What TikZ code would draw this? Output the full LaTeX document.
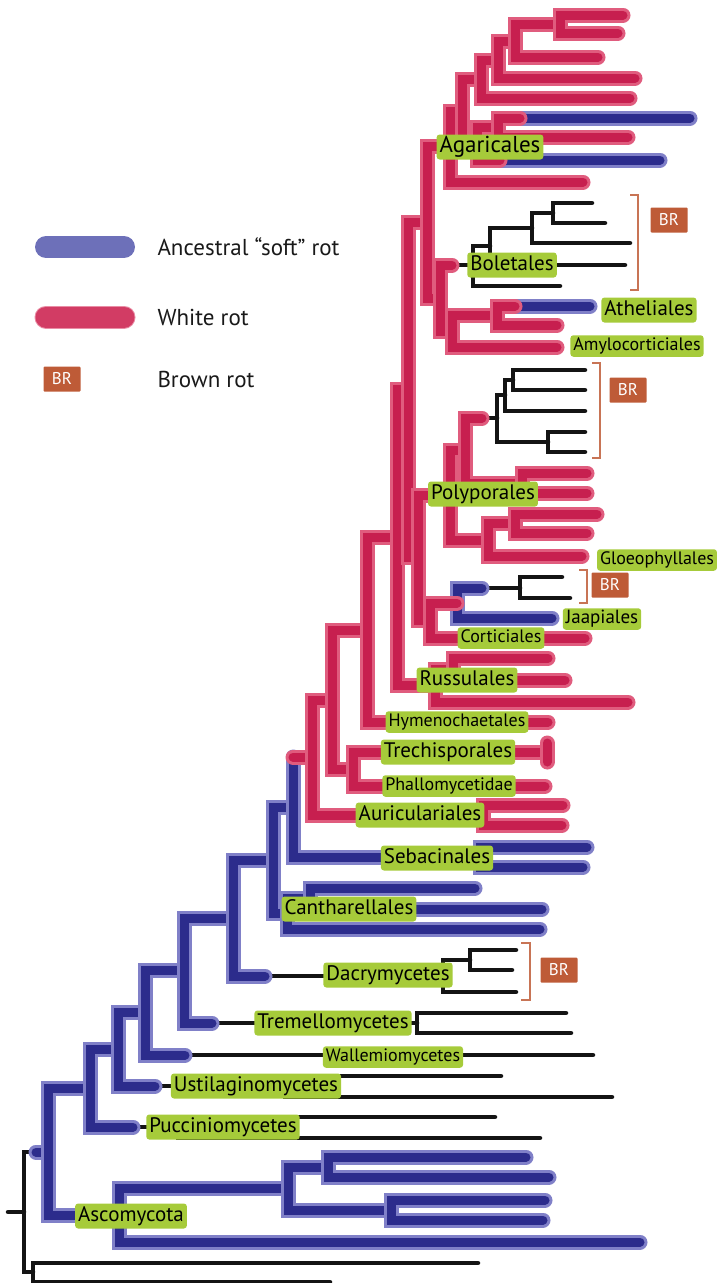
\documentclass[tikz,border=0pt]{standalone}
\usepackage{fontspec}
\setmainfont{PT Sans}
\definecolor{rin}{HTML}{C71F4F}
\definecolor{rout}{HTML}{E05C7E}
\definecolor{bin}{HTML}{2C2C8C}
\definecolor{bout}{HTML}{8080C8}
\definecolor{lime}{HTML}{A6CB3A}
\definecolor{brc}{HTML}{BE5B37}
\definecolor{legblue}{HTML}{6D70B9}
\definecolor{legred}{HTML}{D23C64}
\newcommand\biglab{\fontsize{21}{22}\selectfont}
\newcommand\hugelab{\fontsize{23}{24}\selectfont}
\newcommand\smalllab{\fontsize{18}{19}\selectfont}
\newcommand\brfont{\fontsize{17}{18}\selectfont}
\newcommand\legfont{\fontsize{23}{24}\selectfont}
\tikzset{
 redb/.style={draw=rin, line width=9pt, line cap=round, preaction={draw=rout, line width=15pt, line cap=round}},
 blueb/.style={draw=bin, line width=9pt, line cap=round, preaction={draw=bout, line width=15pt, line cap=round}},
 blackb/.style={draw=black!92, line width=4.5pt, line cap=round},
 lab/.style={fill=lime, rounded corners=3pt, inner xsep=3pt, inner ysep=3pt, text height=14.5pt, text depth=4.5pt, font=\biglab, text=black},
 slab/.style={lab, font=\smalllab, inner ysep=2.5pt, text height=12.5pt, text depth=4pt},
 brbox/.style={fill=brc, text=white, font=\brfont, inner sep=0pt, minimum width=37pt, minimum height=25pt, rounded corners=1pt},
 brack/.style={draw=brc!85!white, line width=2.5pt},
 legtext/.style={anchor=west, font=\legfont, text=black!90},
}
\begin{document}
\begin{tikzpicture}[x=1pt,y=-1pt]
\useasboundingbox (0,0) rectangle (720,1283);
% ---------- coordinates ----------
% Agaricales
\coordinate (t1) at (623,15);
\coordinate (t2) at (618,33);
\coordinate (a1) at (560,24);
\coordinate (t3) at (598,57);
\coordinate (a2) at (515,41);
\coordinate (t4) at (635,78);
\coordinate (a3) at (498,60);
\coordinate (t5) at (630,98);
\coordinate (a4) at (481,79);
\coordinate (t6) at (690,118);
\coordinate (t6r) at (520,118);
\coordinate (t7) at (628,137);
\coordinate (b1) at (498,127);
\coordinate (t8) at (660,160);
\coordinate (t8r) at (500,160);
\coordinate (b2) at (477,143);
\coordinate (a5) at (462,111);
\coordinate (t9) at (583,182);
\coordinate (a6) at (450,146);
% Boletales
\coordinate (u1) at (592,203);
\coordinate (u2) at (605,223);
\coordinate (c1) at (553,213);
\coordinate (u3) at (630,243);
\coordinate (c2) at (532,228);
\coordinate (u4) at (625,265);
\coordinate (c3) at (490,246);
\coordinate (u5) at (560,286);
\coordinate (c4) at (473,265);
\coordinate (bol) at (452,265);
% Atheliales / Amylocorticiales
\coordinate (v1) at (590,306);
\coordinate (v1r) at (515,306);
\coordinate (v2) at (557,325);
\coordinate (e1) at (497,315);
\coordinate (v3) at (557,347);
\coordinate (e2) at (452,331);
\coordinate (d1) at (440,298);
\coordinate (f1) at (427,222);
% Polyporales
\coordinate (w1) at (585,370);
\coordinate (w2) at (585,390);
\coordinate (g1) at (513,380);
\coordinate (w3) at (585,411);
\coordinate (g2) at (505,395);
\coordinate (w4) at (585,432);
\coordinate (w5) at (585,452);
\coordinate (g3) at (548,442);
\coordinate (g4) at (497,418);
\coordinate (pb) at (482,418);
\coordinate (w6) at (587,473);
\coordinate (w7) at (587,493);
\coordinate (h2) at (522,483);
\coordinate (h1) at (465,450);
\coordinate (w8) at (597,514);
\coordinate (w9) at (587,533);
\coordinate (h3) at (515,523);
\coordinate (w10) at (582,556);
\coordinate (h4) at (488,540);
\coordinate (h5) at (450,495);
% Jaapiales / Corticiales
\coordinate (x1) at (562,577);
\coordinate (x2) at (570,598);
\coordinate (j1) at (520,588);
\coordinate (jb) at (482,588);
\coordinate (x3) at (552,618);
\coordinate (j2) at (457,603);
\coordinate (x4) at (585,638);
\coordinate (j3) at (430,620);
\coordinate (k1) at (418,557);
\coordinate (m1) at (408,389);
% Russulales
\coordinate (y1) at (548,658);
\coordinate (y2) at (565,680);
\coordinate (r1) at (453,669);
\coordinate (y3) at (628,702);
\coordinate (r2) at (435,685);
\coordinate (m2) at (397,537);
% Hymenochaetales
\coordinate (hy) at (548,722);
\coordinate (m3) at (367,630);
% Trechisporales / Phallomycetidae
\coordinate (tr) at (547,752);
\coordinate (tra) at (547,743);
\coordinate (trb) at (547,762);
\coordinate (ph) at (545,786);
\coordinate (p1) at (353,769);
\coordinate (m4) at (332,700);
% Auriculariales
\coordinate (z1) at (563,805);
\coordinate (z2) at (562,825);
\coordinate (au) at (483,815);
\coordinate (m5) at (312,757);
% Sebacinales
\coordinate (s1) at (587,847);
\coordinate (s2) at (583,867);
\coordinate (se) at (480,857);
\coordinate (m6) at (293,807);
% Cantharellales
\coordinate (q1) at (475,888);
\coordinate (q2) at (542,909);
\coordinate (ca1) at (310,898);
\coordinate (q3) at (540,929);
\coordinate (ca2) at (287,913);
\coordinate (m7) at (273,860);
% Dacrymycetes
\coordinate (dq1) at (516,950);
\coordinate (dq2) at (512,970);
\coordinate (da1) at (470,960);
\coordinate (dq3) at (516,992);
\coordinate (da2) at (443,976);
\coordinate (dab) at (265,976);
\coordinate (m8) at (233,918);
% Tremellomycetes
\coordinate (tq1) at (566,1013);
\coordinate (tq2) at (571,1033);
\coordinate (tm) at (417,1023);
\coordinate (tmb) at (212,1023);
\coordinate (m9) at (184,970);
% Wallemiomycetes
\coordinate (wq) at (593,1055);
\coordinate (wab) at (185,1055);
\coordinate (m10) at (145,1012);
% Ustilaginomycetes
\coordinate (uq1) at (501,1076);
\coordinate (uq2) at (612,1097);
\coordinate (us) at (285,1086);
\coordinate (usb) at (155,1086);
\coordinate (m11) at (118,1049);
% Pucciniomycetes
\coordinate (pq1) at (495,1117);
\coordinate (pq2) at (540,1138);
\coordinate (pu) at (178,1127);
\coordinate (pub) at (133,1127);
\coordinate (m12) at (90,1088);
% Ascomycota
\coordinate (aq1) at (526,1157);
\coordinate (aq2) at (549,1177);
\coordinate (as1) at (328,1167);
\coordinate (aq3) at (545,1200);
\coordinate (aq4) at (543,1220);
\coordinate (as2) at (391,1210);
\coordinate (as3) at (288,1188);
\coordinate (aq5) at (640,1242);
\coordinate (as4) at (119,1215);
\coordinate (m13) at (48,1152);
% root
\coordinate (rootb) at (36,1152);
\coordinate (oq1) at (478,1263);
\coordinate (oq2) at (330,1282);
\coordinate (o1) at (33,1272);
\coordinate (root) at (24,1212);
\coordinate (rstub) at (8,1212);

% ---------- black branches ----------
\draw[blackb] (bol) -- (c4) (c3) -| (c4) |- (u5) (c2) -| (c3) |- (u4)
  (c1) -| (c2) |- (u3) (u1) -| (c1) |- (u2);
\draw[blackb] (pb) -- (g4) (g2) -| (g4) |- (g3) (g1) -| (g2) |- (w3)
  (w1) -| (g1) |- (w2) (w4) -| (g3) |- (w5);
\draw[blackb] (jb) -- (j1) (x1) -| (j1) |- (x2);
\draw[blackb] (dab) -- (da2) (da1) -| (da2) |- (dq3) (dq1) -| (da1) |- (dq2);
\draw[blackb] (tmb) -- (tm) (tq1) -| (tm) |- (tq2);
\draw[blackb] (wab) -- (wq);
\draw[blackb] (usb) -- (us) (uq1) -| (us) |- (uq2);
\draw[blackb] (pub) -- (pu) (pq1) -| (pu) |- (pq2);
\draw[blackb] (rstub) -- (root) (rootb) -| (root) |- (o1) (oq1) -| (o1) |- (oq2);

% ---------- blue branches (root to tips) ----------
\draw[blueb] (rootb) -- (m13);
\draw[blueb] (m12) -| (m13) |- (as4);
\draw[blueb] (m11) -| (m12) |- (pub);
\draw[blueb] (m10) -| (m11) |- (usb);
\draw[blueb] (m9) -| (m10) |- (wab);
\draw[blueb] (m8) -| (m9) |- (tmb);
\draw[blueb] (m7) -| (m8) |- (dab);
\draw[blueb] (m6) -| (m7) |- (ca2);
\draw[blueb] (m6 |- m5) -- (m6) |- (se);
\draw[blueb] (s1) -| (se) |- (s2);
\draw[blueb] (ca1) -| (ca2) |- (q3);
\draw[blueb] (q1) -| (ca1) |- (q2);
\draw[blueb] (as3) -| (as4) |- (aq5);
\draw[blueb] (as1) -| (as3) |- (as2);
\draw[blueb] (aq1) -| (as1) |- (aq2);
\draw[blueb] (aq3) -| (as2) |- (aq4);
\draw[blueb] (jb) -| (j2) |- (x3);
\draw[blueb] (b1) |- (t6);
\draw[blueb] (b2) |- (t8);
\draw[blueb] (e1) |- (v1);

% ---------- red branches (root to tips) ----------
\draw[redb] (m6 |- m5) -- (m5);
\draw[redb] (m4) -| (m5) |- (au);
\draw[redb] (m3) -| (m4) |- (p1);
\draw[redb] (z1) -| (au) |- (z2);
\draw[redb] (tr) -| (p1) |- (ph);
\draw[redb] (tra) -- (trb);
\draw[redb] (m2) -| (m3) |- (hy);
\draw[redb] (m1) -| (m2) |- (r2);
\draw[redb] (r1) -| (r2) |- (y3);
\draw[redb] (y1) -| (r1) |- (y2);
\draw[redb] (f1) -| (m1) |- (k1);
\draw[redb] (h5) -| (k1) |- (j3);
\draw[redb] (j2) -| (j3) |- (x4);
\draw[redb] (h1) -| (h5) |- (h4);
\draw[redb] (pb) -| (h1) |- (h2);
\draw[redb] (w6) -| (h2) |- (w7);
\draw[redb] (h3) -| (h4) |- (w10);
\draw[redb] (w8) -| (h3) |- (w9);
\draw[redb] (a6) -| (f1) |- (d1);
\draw[redb] (bol) -| (d1) |- (e2);
\draw[redb] (e1) -| (e2) |- (v3);
\draw[redb] (v1r) -| (e1) |- (v2);
\draw[redb] (a5) -| (a6) |- (t9);
\draw[redb] (a4) -| (a5) |- (b2);
\draw[redb] (b1) -| (b2) |- (t8r);
\draw[redb] (t6r) -| (b1) |- (t7);
\draw[redb] (a3) -| (a4) |- (t5);
\draw[redb] (a2) -| (a3) |- (t4);
\draw[redb] (a1) -| (a2) |- (t3);
\draw[redb] (t1) -| (a1) |- (t2);

% ---------- brackets and BR boxes ----------
\coordinate (k1a) at (630,195); \coordinate (k1b) at (630,290);
\draw[brack] (k1a) -| ++(8,0) |- (k1b);
\coordinate (k2a) at (592,363); \coordinate (k2b) at (592,458);
\draw[brack] (k2a) -| ++(8,0) |- (k2b);
\coordinate (k3a) at (579,570); \coordinate (k3b) at (579,603);
\draw[brack] (k3a) -| ++(8,0) |- (k3b);
\coordinate (k4a) at (521,943); \coordinate (k4b) at (521,1000);
\draw[brack] (k4a) -| ++(9,0) |- (k4b);
\node[brbox] (br1) at (669,220) {BR};
\node[brbox] (br2) at (628,390) {BR};
\node[brbox] (br3) at (610,585) {BR};
\node[brbox] (br4) at (559,970) {BR};

% ---------- labels ----------
\node[lab, font=\hugelab] (lAga) at (490,147) {Agaricales};
\node[lab]  (lBol) at (512,265) {Boletales};
\node[lab]  (lAth) at (649,310) {Atheliales};
\node[slab] (lAmy) at (637,346) {Amylocorticiales};
\node[lab]  (lPol) at (483,494) {Polyporales};
\node[slab] (lGlo) at (657,560) {Gloeophyllales};
\node[slab, font=\fontsize{19}{20}\selectfont] (lJaa) at (602,619) {Jaapiales};
\node[slab] (lCor) at (501,638) {Corticiales};
\node[lab]  (lRus) at (467,680) {Russulales};
\node[slab] (lHym) at (457,722) {Hymenochaetales};
\node[lab]  (lTre) at (448,752) {Trechisporales};
\node[slab] (lPha) at (449,786) {Phallomycetidae};
\node[lab]  (lAur) at (420,815) {Auriculariales};
\node[lab]  (lSeb) at (437,858) {Sebacinales};
\node[lab]  (lCan) at (349,909) {Cantharellales};
\node[lab]  (lDac) at (388,975) {Dacrymycetes};
\node[lab]  (lTrm) at (333,1023) {Tremellomycetes};
\node[slab] (lWal) at (393,1057) {Wallemiomycetes};
\node[lab]  (lUst) at (256,1086) {Ustilaginomycetes};
\node[lab]  (lPuc) at (223,1127) {Pucciniomycetes};
\node[lab]  (lAsc) at (131,1216) {Ascomycota};

% ---------- legend ----------
\coordinate (lb1) at (46,247); \coordinate (lb2) at (124,247);
\draw[draw=legblue, line width=22pt, line cap=round] (lb1) -- (lb2);
\coordinate (lr1) at (46,317); \coordinate (lr2) at (124,317);
\draw[draw=legred, line width=21pt, line cap=round, preaction={draw=rout!70!white, line width=23pt, line cap=round}] (lr1) -- (lr2);
\node[brbox] (brL) at (62,379) {BR};
\node[legtext] (legA) at (154,247) {Ancestral “soft” rot};
\node[legtext] (legW) at (154,317) {White rot};
\node[legtext] (legB) at (154,379) {Brown rot};
\end{tikzpicture}
\end{document}
